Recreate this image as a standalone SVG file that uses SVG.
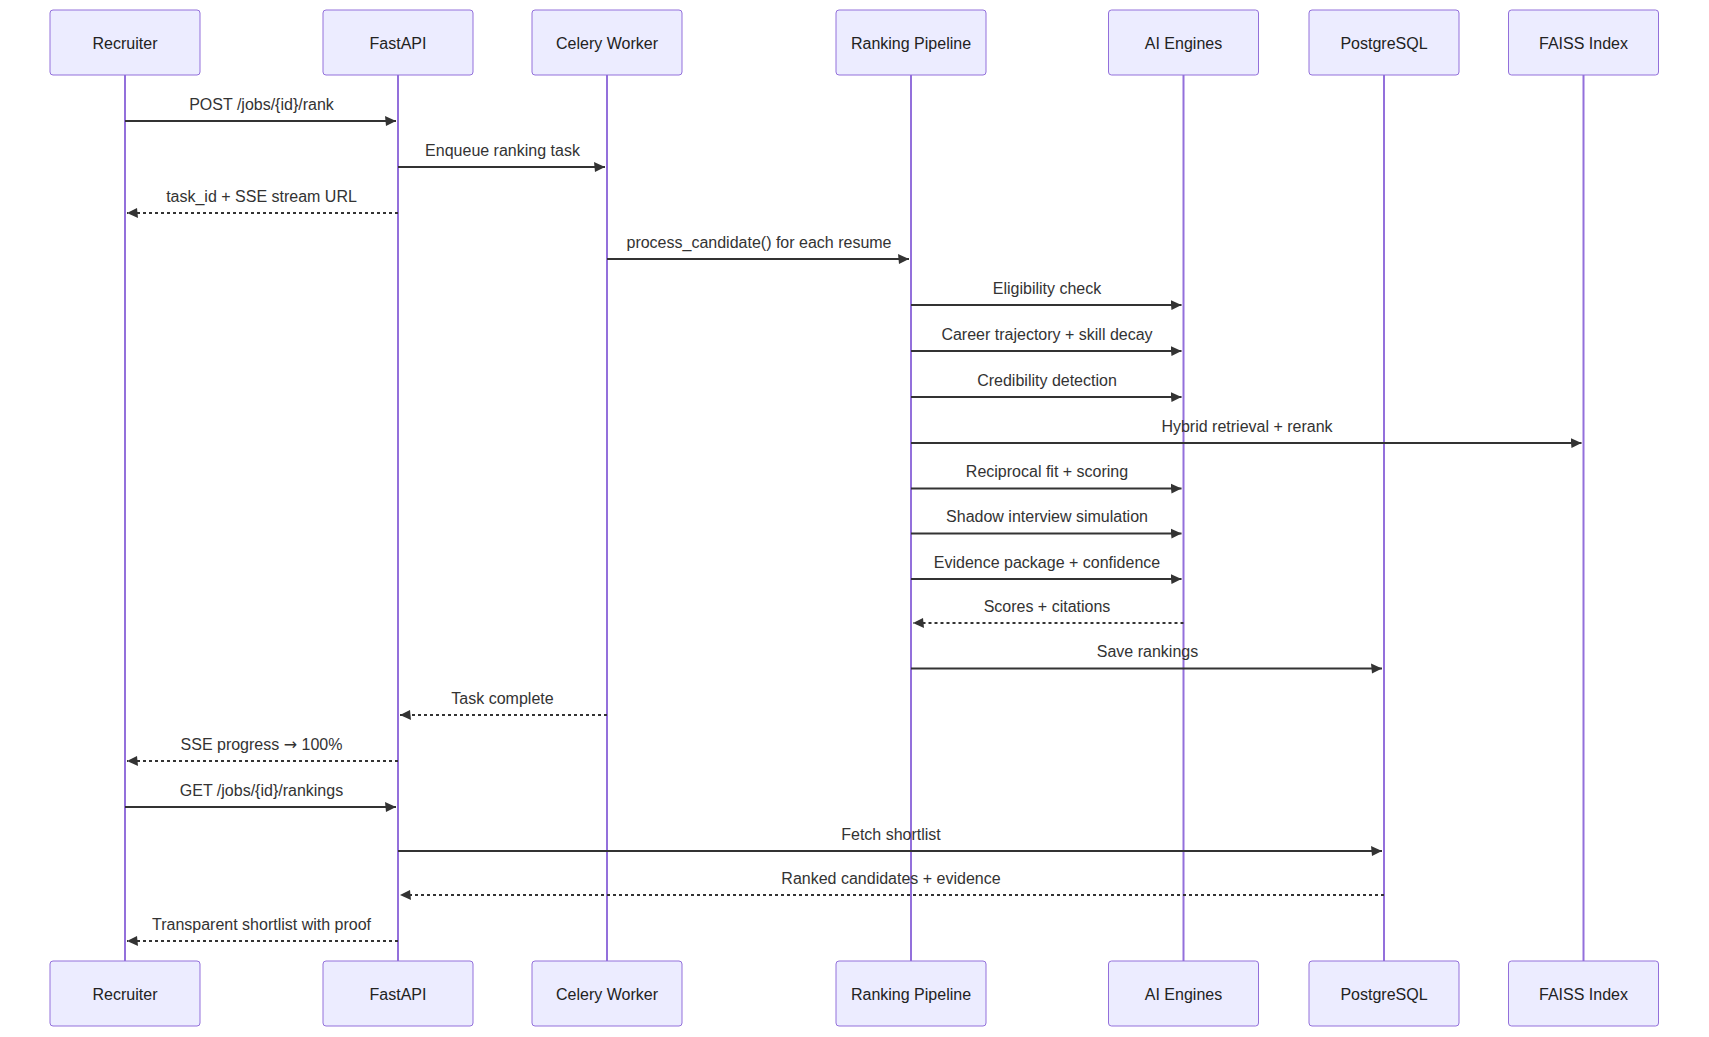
<svg xmlns="http://www.w3.org/2000/svg" width="1709" height="1037" viewBox="0 0 1709 1037">
<style>
.actor{fill:#ECECFF;stroke:#9370DB;stroke-width:1}
.atext{font-family:"Liberation Sans",Arial,sans-serif;font-size:16px;fill:#222;text-anchor:middle;dominant-baseline:central}
.life{stroke:#9370DB;stroke-width:2}
.msg{stroke:#333;stroke-width:2;fill:none}
.dot{stroke-dasharray:3,3}
.mtext{font-family:"Liberation Sans",Arial,sans-serif;font-size:16px;fill:#333;text-anchor:middle}
.arr{font-family:"DejaVu Sans",sans-serif}
</style>
<defs>
<marker id="ah" markerUnits="userSpaceOnUse" markerWidth="12" markerHeight="12" refX="10" refY="5" orient="auto-start-reverse" viewBox="-1 0 12 10">
<path d="M -1 0 L 10 5 L 0 10 z" fill="#333"/>
</marker>
</defs>
<rect width="1709" height="1037" fill="#fff"/>
<g id="lifelines">
<line class="life" x1="125" y1="75" x2="125" y2="961"/>
<line class="life" x1="398" y1="75" x2="398" y2="961"/>
<line class="life" x1="607" y1="75" x2="607" y2="961"/>
<line class="life" x1="911" y1="75" x2="911" y2="961"/>
<line class="life" x1="1183.5" y1="75" x2="1183.5" y2="961"/>
<line class="life" x1="1384" y1="75" x2="1384" y2="961"/>
<line class="life" x1="1583.5" y1="75" x2="1583.5" y2="961"/>
</g>
<g id="recruiter"><rect class="actor" x="50" y="10" width="150" height="65" rx="3"/><text class="atext" x="125" y="43.5">Recruiter</text><rect class="actor" x="50" y="961" width="150" height="65" rx="3"/><text class="atext" x="125" y="994.5">Recruiter</text></g>
<g id="fastapi"><rect class="actor" x="323" y="10" width="150" height="65" rx="3"/><text class="atext" x="398" y="43.5">FastAPI</text><rect class="actor" x="323" y="961" width="150" height="65" rx="3"/><text class="atext" x="398" y="994.5">FastAPI</text></g>
<g id="celery"><rect class="actor" x="532" y="10" width="150" height="65" rx="3"/><text class="atext" x="607" y="43.5">Celery Worker</text><rect class="actor" x="532" y="961" width="150" height="65" rx="3"/><text class="atext" x="607" y="994.5">Celery Worker</text></g>
<g id="pipeline"><rect class="actor" x="836" y="10" width="150" height="65" rx="3"/><text class="atext" x="911" y="43.5">Ranking Pipeline</text><rect class="actor" x="836" y="961" width="150" height="65" rx="3"/><text class="atext" x="911" y="994.5">Ranking Pipeline</text></g>
<g id="ai"><rect class="actor" x="1108.5" y="10" width="150" height="65" rx="3"/><text class="atext" x="1183.5" y="43.5">AI Engines</text><rect class="actor" x="1108.5" y="961" width="150" height="65" rx="3"/><text class="atext" x="1183.5" y="994.5">AI Engines</text></g>
<g id="postgres"><rect class="actor" x="1309" y="10" width="150" height="65" rx="3"/><text class="atext" x="1384" y="43.5">PostgreSQL</text><rect class="actor" x="1309" y="961" width="150" height="65" rx="3"/><text class="atext" x="1384" y="994.5">PostgreSQL</text></g>
<g id="faiss"><rect class="actor" x="1508.5" y="10" width="150" height="65" rx="3"/><text class="atext" x="1583.5" y="43.5">FAISS Index</text><rect class="actor" x="1508.5" y="961" width="150" height="65" rx="3"/><text class="atext" x="1583.5" y="994.5">FAISS Index</text></g>
<g id="connectors">
<line class="msg" x1="125" y1="121" x2="396" y2="121" marker-end="url(#ah)"/><text class="mtext" x="261.5" y="109.5">POST /jobs/{id}/rank</text>
<line class="msg" x1="398" y1="167" x2="605" y2="167" marker-end="url(#ah)"/><text class="mtext" x="502.5" y="155.5">Enqueue ranking task</text>
<line class="msg dot" x1="398" y1="213" x2="127" y2="213" marker-end="url(#ah)"/><text class="mtext" x="261.5" y="201.5">task_id + SSE stream URL</text>
<line class="msg" x1="607" y1="259" x2="909" y2="259" marker-end="url(#ah)"/><text class="mtext" x="759" y="247.5">process_candidate() for each resume</text>
<line class="msg" x1="911" y1="305" x2="1181.5" y2="305" marker-end="url(#ah)"/><text class="mtext" x="1047" y="293.5">Eligibility check</text>
<line class="msg" x1="911" y1="351" x2="1181.5" y2="351" marker-end="url(#ah)"/><text class="mtext" x="1047" y="339.5">Career trajectory + skill decay</text>
<line class="msg" x1="911" y1="397" x2="1181.5" y2="397" marker-end="url(#ah)"/><text class="mtext" x="1047" y="385.5">Credibility detection</text>
<line class="msg" x1="911" y1="443" x2="1581.5" y2="443" marker-end="url(#ah)"/><text class="mtext" x="1247" y="431.5">Hybrid retrieval + rerank</text>
<line class="msg" x1="911" y1="488.5" x2="1181.5" y2="488.5" marker-end="url(#ah)"/><text class="mtext" x="1047" y="477">Reciprocal fit + scoring</text>
<line class="msg" x1="911" y1="533.5" x2="1181.5" y2="533.5" marker-end="url(#ah)"/><text class="mtext" x="1047" y="522">Shadow interview simulation</text>
<line class="msg" x1="911" y1="579" x2="1181.5" y2="579" marker-end="url(#ah)"/><text class="mtext" x="1047" y="567.5">Evidence package + confidence</text>
<line class="msg dot" x1="1183.5" y1="623" x2="913" y2="623" marker-end="url(#ah)"/><text class="mtext" x="1047" y="611.5">Scores + citations</text>
<line class="msg" x1="911" y1="668.5" x2="1382" y2="668.5" marker-end="url(#ah)"/><text class="mtext" x="1147.5" y="657">Save rankings</text>
<line class="msg dot" x1="607" y1="715" x2="400" y2="715" marker-end="url(#ah)"/><text class="mtext" x="502.5" y="703.5">Task complete</text>
<line class="msg dot" x1="398" y1="761" x2="127" y2="761" marker-end="url(#ah)"/><text class="mtext" x="261.5" y="749.5">SSE progress <tspan class="arr">→</tspan> 100%</text>
<line class="msg" x1="125" y1="807" x2="396" y2="807" marker-end="url(#ah)"/><text class="mtext" x="261.5" y="795.5">GET /jobs/{id}/rankings</text>
<line class="msg" x1="398" y1="851" x2="1382" y2="851" marker-end="url(#ah)"/><text class="mtext" x="891" y="839.5">Fetch shortlist</text>
<line class="msg dot" x1="1384" y1="895" x2="400" y2="895" marker-end="url(#ah)"/><text class="mtext" x="891" y="883.5">Ranked candidates + evidence</text>
<line class="msg dot" x1="398" y1="941" x2="127" y2="941" marker-end="url(#ah)"/><text class="mtext" x="261.5" y="929.5">Transparent shortlist with proof</text>
</g>
</svg>
